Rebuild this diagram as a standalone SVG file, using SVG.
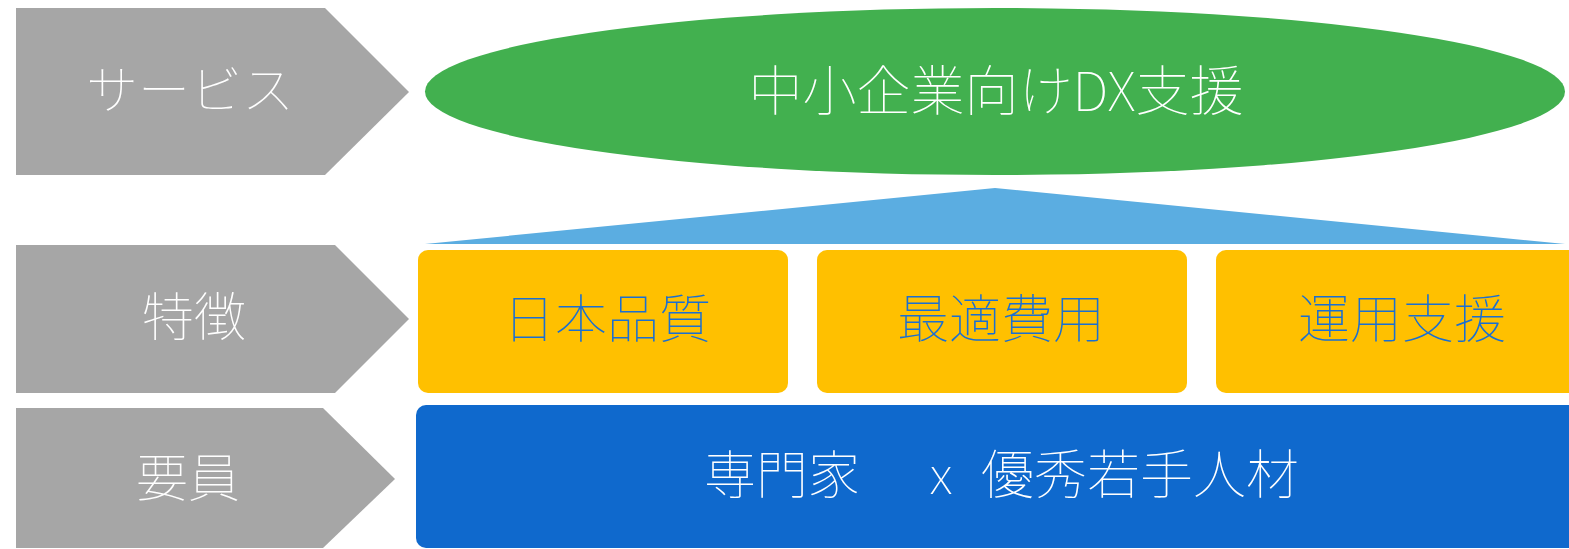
<svg xmlns="http://www.w3.org/2000/svg" width="1569" height="549" viewBox="0 0 1569 549">
<style>
.lbl{fill:#A6A6A6}
.t{font-family:"Noto Sans CJK JP","Noto Sans",sans-serif;font-weight:100;font-size:52px;text-anchor:middle}
.w{fill:#FFFFFF}
.b{fill:#1A6FD2}
.y{fill:#FFC000}
</style>
<rect width="1569" height="549" fill="#FFFFFF"/>
<g id="label-service">
<polygon class="lbl" points="16,8 325,8 409,92 325,175 16,175"/>
<text class="t w" x="190" y="109">サービス</text>
</g>
<g id="label-features">
<polygon class="lbl" points="16,245 335,245 409,319 335,393 16,393"/>
<text class="t w" x="194" y="336">特徴</text>
</g>
<g id="label-staff">
<polygon class="lbl" points="16,408 323,408 395,479 323,548 16,548"/>
<text class="t w" x="188" y="497">要員</text>
</g>
<g id="service">
<ellipse cx="995" cy="91.5" rx="570" ry="83.5" fill="#42B04F"/>
<text class="t w" x="996" y="111" style="font-size:54px">中小企業向けDX支援</text>
</g>
<g id="connectors">
<polygon points="425,244 995,188 1565,244" fill="#5BADE1"/>
</g>
<g id="feature-quality">
<rect class="y" x="418" y="250" width="370" height="143" rx="10"/>
<text class="t b" x="607" y="338">日本品質</text>
</g>
<g id="feature-cost">
<rect class="y" x="817" y="250" width="370" height="143" rx="10"/>
<text class="t b" x="1001" y="338">最適費用</text>
</g>
<g id="feature-support">
<rect class="y" x="1216" y="250" width="370" height="143" rx="10"/>
<text class="t b" x="1402" y="338">運用支援</text>
</g>
<g id="staff">
<rect x="416" y="405" width="1170" height="143" rx="10" fill="#0F69CD"/>
<text class="t w" y="494"><tspan x="782">専門家</tspan><tspan x="941">x</tspan><tspan x="1140" style="font-size:53px">優秀若手人材</tspan></text>
</g>
</svg>
